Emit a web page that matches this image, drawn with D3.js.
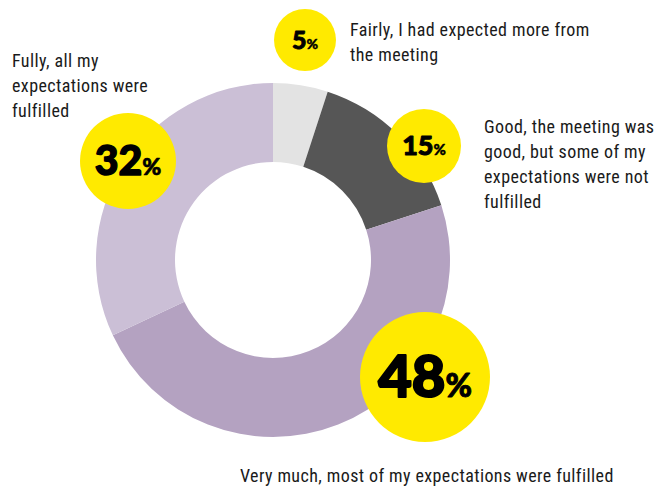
<!DOCTYPE html>
<html>
<head>
<meta charset="utf-8">
<script src="https://cdn.jsdelivr.net/npm/d3@7"></script>
<style>
  body { margin: 0; background: #fff; }
  svg { display: block; }
  .lbl { font-family: "Liberation Sans Narrow", "Roboto Condensed", "DejaVu Sans Condensed", sans-serif; font-size: 18px; letter-spacing: 0.4px; fill: #1a1a1a; }
  .pct { font-family: Lato, Roboto, "DejaVu Sans", sans-serif; font-weight: 900; fill: #000; stroke: #000; stroke-linejoin: round; }
</style>
</head>
<body>
<svg id="chart"></svg>
<script>
// answers, clockwise from 12 o'clock
const categories = ["Fairly", "Good", "Very much", "Fully"];
const values = [5, 15, 48, 32];
const labels = [
  ["Fairly, I had expected more from", "the meeting"],
  ["Good, the meeting was", "good, but some of my", "expectations were not", "fulfilled"],
  ["Very much, most of my expectations were fulfilled"],
  ["Fully, all my", "expectations were", "fulfilled"]
];
const colors = ["#e3e3e3", "#565656", "#b4a2c1", "#cbbfd6"];

// layout of the yellow bubbles and the label blocks
const bubbles = [
  { x: 305, y: 40, r: 31, size: 25 },
  { x: 424, y: 146, r: 37, size: 27 },
  { x: 425, y: 377, r: 65, size: 58 },
  { x: 128, y: 161, r: 48, size: 41 }
];
const labelPos = [
  { x: 350, y: 36 },
  { x: 484, y: 133 },
  { x: 240, y: 482 },
  { x: 12, y: 67 }
];

var width = 666, height = 488;
var cx = 273, cy = 260, outerR = 177, innerR = 98;

var svg = d3.select("#chart")
  .attr("width", width)
  .attr("height", height);

var pie = d3.pie().sort(null).value(function (d) { return d; });
var arc = d3.arc().innerRadius(innerR).outerRadius(outerR);

var g = svg.append("g").attr("transform", "translate(" + cx + "," + cy + ")");
g.selectAll("path")
  .data(pie(values))
  .join("path")
  .attr("d", arc)
  .attr("fill", function (d, i) { return colors[i]; });

// bubbles
var b = svg.selectAll("g.bubble")
  .data(values)
  .join("g")
  .attr("class", "bubble")
  .attr("transform", function (d, i) { return "translate(" + bubbles[i].x + "," + bubbles[i].y + ")"; });

b.append("circle")
  .attr("r", function (d, i) { return bubbles[i].r; })
  .attr("fill", "#ffea00");

var t = b.append("text")
  .attr("class", "pct")
  .attr("text-anchor", "middle")
  .attr("dy", function (d, i) { return bubbles[i].size * 0.35; })
  .style("stroke-width", function (d, i) { return bubbles[i].size / 28; })
  .style("font-size", function (d, i) { return bubbles[i].size + "px"; });
t.append("tspan").text(function (d) { return d; });
t.append("tspan")
  .style("font-size", function (d, i) { return Math.round(bubbles[i].size * 0.55) + "px"; })
  .style("stroke-width", function (d, i) { return bubbles[i].size / 60; })
  .text("%");

// category labels
svg.selectAll("text.lbl")
  .data(labels)
  .join("text")
  .attr("class", "lbl")
  .attr("x", function (d, i) { return labelPos[i].x; })
  .attr("y", function (d, i) { return labelPos[i].y; })
  .each(function (lines, i) {
    d3.select(this).selectAll("tspan")
      .data(lines)
      .join("tspan")
      .attr("x", labelPos[i].x)
      .attr("dy", function (l, j) { return j === 0 ? 0 : 25; })
      .text(function (l) { return l; });
  });
</script>
</body>
</html>
